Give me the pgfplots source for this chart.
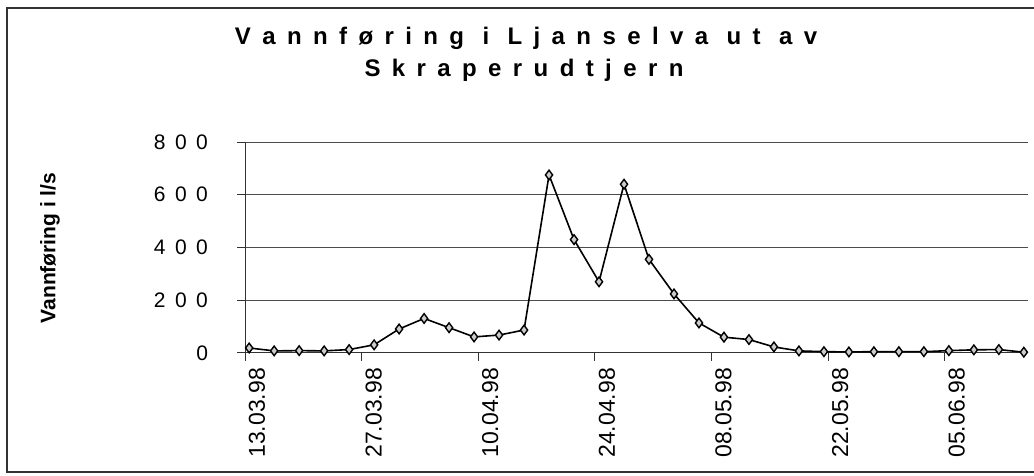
\documentclass[border=0pt]{standalone}
\usepackage{fontspec}
\setmainfont{Liberation Sans}
\newfontfamily\ytickfont[LetterSpace=45]{Liberation Sans}
\usepackage{pgfplots}
\pgfplotsset{compat=1.18}
% manual letter spacing for the title
\def\ls#1{\lsA#1\relax}
\def\lsA#1{\ifx#1\relax\else#1\kern5.7pt\expandafter\lsA\fi}
\newcommand\wsp{\kern3.5pt}
\begin{document}
\begin{tikzpicture}
\path[use as bounding box] (0pt,0pt) rectangle (517pt,238pt);
% chart frame
\draw[black!80, line width=0.6pt] (520pt,234pt) -- (3.5pt,234pt) -- (3.5pt,2pt) -- (520pt,2pt);
% title
\node[anchor=base, inner sep=0pt, font=\bfseries\fontsize{12}{14}\selectfont] at (263pt,215.5pt)
  {\ls{Vannføring}\wsp\ls{i}\wsp\ls{Ljanselva}\wsp\ls{ut}\wsp\ls{av}\unkern};
\node[anchor=base, inner sep=0pt, font=\bfseries\fontsize{12}{14}\selectfont] at (262pt,199.5pt)
  {\ls{Skraperudtjern}\unkern};
% y label
\node[rotate=90, font=\bfseries\fontsize{10.5}{12}\selectfont] at (25pt,114pt) {Vannføring i l/s};
\begin{axis}[
  at={(122.5pt,61.5pt)}, anchor=origin,
  scale only axis, width=391.5pt, height=105.5pt,
  xmin=0, xmax=94, ymin=0, ymax=800,
  axis lines*=left,
  axis line style={black!80, line width=0.5pt},
  xtick={0,14,28,42,56,70,84},
  xticklabels={13.03.98,27.03.98,10.04.98,24.04.98,08.05.98,22.05.98,05.06.98},
  ytick={0,200,400,600,800},
  tick align=outside,
  major tick length=4pt,
  tick style={black!80, line width=0.5pt},
  ymajorgrids,
  grid style={black!70, line width=0.5pt},
  /pgf/number format/assume math mode=true,
  yticklabel style={font=\ytickfont\fontsize{10.5}{12}\selectfont, xshift=-11pt},
  xticklabel style={font=\fontsize{11.5}{12}\selectfont, rotate=90, anchor=east, yshift=-6pt},
  clip=false,
]
\addplot[black, line width=0.8pt, mark=diamond*, mark size=2.4pt,
  mark options={fill=gray!40, draw=black, line width=0.7pt}]
coordinates {
(0.5,19) (3.5,8) (6.5,9) (9.5,8) (12.5,13) (15.5,31) (18.5,91) (21.5,131)
(24.5,96) (27.5,61) (30.5,68) (33.5,87) (36.5,675) (39.5,430) (42.5,270) (45.5,640)
(48.5,355) (51.5,224) (54.5,114) (57.5,60) (60.5,51) (63.5,23) (66.5,8) (69.5,5)
(72.5,4) (75.5,5) (78.5,5) (81.5,5) (84.5,9) (87.5,12) (90.5,13) (93.5,3)
};
\end{axis}
\end{tikzpicture}
\end{document}
